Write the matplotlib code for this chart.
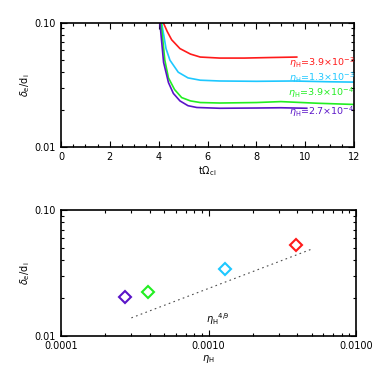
import numpy as np
import matplotlib
matplotlib.use("Agg")
import matplotlib.pyplot as plt
from matplotlib.ticker import FixedLocator, NullFormatter, MultipleLocator

# colours for the four runs
colors = ['#ff1a1a', '#1ec8ff', '#22ee22', '#5a14c8']
labels = [r'$\eta_{\rm H}$=3.9$\times$10$^{-3}$',
          r'$\eta_{\rm H}$=1.3$\times$10$^{-3}$',
          r'$\eta_{\rm H}$=3.9$\times$10$^{-4}$',
          r'$\eta_{\rm H}$=2.7$\times$10$^{-4}$']

# time histories of delta_e/d_i
t_red = [4.19, 4.35, 4.53, 4.87, 5.3, 5.7, 6.5, 7.5, 8.5, 9.65]
d_red = [0.100, 0.085, 0.073, 0.062, 0.056, 0.053, 0.052, 0.052, 0.0525, 0.053]
t_cyan = [4.12, 4.3, 4.46, 4.8, 5.2, 5.7, 6.5, 8.0, 9.5, 11.0, 12.0]
d_cyan = [0.100, 0.062, 0.050, 0.040, 0.036, 0.0345, 0.034, 0.0338, 0.034, 0.0335, 0.0333]
t_green = [4.1, 4.25, 4.4, 4.65, 4.94, 5.3, 5.7, 6.5, 8.0, 9.0, 10.5, 12.0]
d_green = [0.100, 0.050, 0.036, 0.029, 0.025, 0.0235, 0.0228, 0.0226, 0.0228, 0.0232, 0.0225, 0.022]
t_purple = [4.05, 4.2, 4.4, 4.6, 4.87, 5.2, 5.56, 6.5, 8.0, 9.0, 10.06]
d_purple = [0.100, 0.048, 0.033, 0.027, 0.0235, 0.0215, 0.0208, 0.0205, 0.0206, 0.0207, 0.0205]

# saturated width vs eta_H
eta = [3.9e-3, 1.3e-3, 3.9e-4, 2.7e-4]
delta = [0.053, 0.034, 0.0225, 0.0205]
# eta^(4/9) reference line endpoints
ref_x = [3.0e-4, 5.0e-3]
ref_y = [0.0139, 0.049]

plt.rcParams['font.size'] = 7
plt.rcParams['mathtext.fontset'] = 'dejavusans'

fig = plt.figure(figsize=(3.74, 3.74), dpi=100)
ax1 = fig.add_axes([0.163, 0.607, 0.784, 0.332])
ax2 = fig.add_axes([0.163, 0.102, 0.789, 0.336])

for t, d, c in zip([t_red, t_cyan, t_green, t_purple],
                   [d_red, d_cyan, d_green, d_purple], colors):
    ax1.plot(t, d, color=c, lw=1.2)

ax1.set_yscale('log')
ax1.set_xlim(0, 12)
ax1.set_ylim(0.01, 0.1)
ax1.set_xticks([0, 2, 4, 6, 8, 10, 12])
ax1.xaxis.set_minor_locator(MultipleLocator(0.5))
ax1.set_xlabel(r'$\rm t\Omega_{ci}$', labelpad=2)
ax1.set_ylabel(r'$\delta_{\rm e}/\rm d_i$', labelpad=2)

label_y = [0.0475, 0.0362, 0.0275, 0.0194]
for lab, ly, c in zip(labels, label_y, colors):
    ax1.text(12.0, ly, lab, color=c, ha='right', va='center', fontsize=6.8)

for e, d, c in zip(eta, delta, colors):
    ax2.plot(e, d, marker='D', ms=6, mfc='none', mec=c, mew=1.5, ls='none')
ax2.plot(ref_x, ref_y, color='0.3', ls=(0, (1.5, 3)), lw=0.8)
ax2.text(1.15e-3, 0.0136, r'$\eta_{\rm H}$$^{4/9}$', ha='center', va='center', fontsize=7)

ax2.set_xscale('log')
ax2.set_yscale('log')
ax2.set_xlim(1e-4, 1e-2)
ax2.set_ylim(0.01, 0.1)
ax2.set_xticks([1e-4, 1e-3, 1e-2])
ax2.set_xticklabels(['0.0001', '0.0010', '0.0100'])
ax2.set_xlabel(r'$\eta_{\rm H}$', labelpad=2)
ax2.set_ylabel(r'$\delta_{\rm e}/\rm d_i$', labelpad=2)

for ax in (ax1, ax2):
    ax.set_yticks([0.01, 0.1])
    ax.set_yticklabels(['0.01', '0.10'])
    ax.yaxis.set_minor_locator(FixedLocator([k * 0.01 for k in range(2, 10)]))
    ax.yaxis.set_minor_formatter(NullFormatter())
    ax.tick_params(which='both', direction='in', top=True, right=True, width=0.8, labelsize=7)
    ax.tick_params(which='major', length=4)
    ax.tick_params(which='minor', length=2.5)
    for s in ax.spines.values():
        s.set_linewidth(1.2)

fig.savefig('out.png', dpi=100)
